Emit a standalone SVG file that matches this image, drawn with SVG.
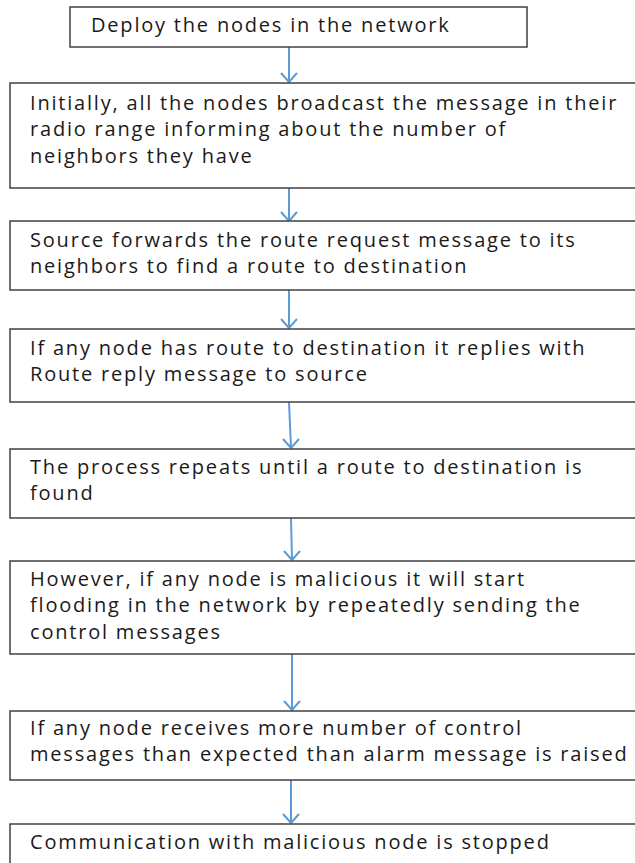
<svg xmlns="http://www.w3.org/2000/svg" width="635" height="863" viewBox="0 0 635 863">
<style>
.box{fill:#fff;stroke:#404040;stroke-width:1.5}
.t{font-family:"Open Sans","Liberation Sans",sans-serif;font-size:20px;letter-spacing:1.8px;fill:#1a1a1a}
.c{stroke:#5b9bd5;stroke-width:2;fill:none}
</style>
<rect width="635" height="863" fill="#fff"/>
<g id="connectors">
<path class="c" d="M289 47V82M281 73L289 82L297 73"/>
<path class="c" d="M289 188V221M281 212L289 221L297 212"/>
<path class="c" d="M289 290V328M281 319L289 328L297 319"/>
<path class="c" d="M289 402L291 448M283 439L291 448L299 439"/>
<path class="c" d="M291 518L292 560M284 551L292 560L300 551"/>
<path class="c" d="M292 654V710M284 701L292 710L300 701"/>
<path class="c" d="M291 780V823M283 814L291 823L299 814"/>
</g>
<g id="n1"><rect class="box" x="70" y="7" width="457" height="40"/><text class="t" x="91" y="32">Deploy the nodes in the network</text></g>
<g id="n2"><rect class="box" x="10" y="83" width="640" height="105"/><text class="t" x="30" y="110">Initially, all the nodes broadcast the message in their</text><text class="t" x="30" y="136">radio range informing about the number of</text><text class="t" x="30" y="163">neighbors they have</text></g>
<g id="n3"><rect class="box" x="10" y="221" width="640" height="69"/><text class="t" x="30" y="247">Source forwards the route request message to its</text><text class="t" x="30" y="273">neighbors to find a route to destination</text></g>
<g id="n4"><rect class="box" x="10" y="329" width="640" height="73"/><text class="t" x="30" y="355">If any node has route to destination it replies with</text><text class="t" x="30" y="381">Route reply message to source</text></g>
<g id="n5"><rect class="box" x="10" y="449" width="640" height="69"/><text class="t" x="30" y="474">The process repeats until a route to destination is</text><text class="t" x="30" y="500">found</text></g>
<g id="n6"><rect class="box" x="10" y="561" width="640" height="93"/><text class="t" x="30" y="586">However, if any node is malicious it will start</text><text class="t" x="30" y="612">flooding in the network by repeatedly sending the</text><text class="t" x="30" y="639">control messages</text></g>
<g id="n7"><rect class="box" x="10" y="711" width="640" height="69"/><text class="t" x="30" y="735">If any node receives more number of control</text><text class="t" x="30" y="761">messages than expected than alarm message is raised</text></g>
<g id="n8"><rect class="box" x="10" y="824" width="640" height="60"/><text class="t" x="30" y="849">Communication with malicious node is stopped</text></g>
</svg>
